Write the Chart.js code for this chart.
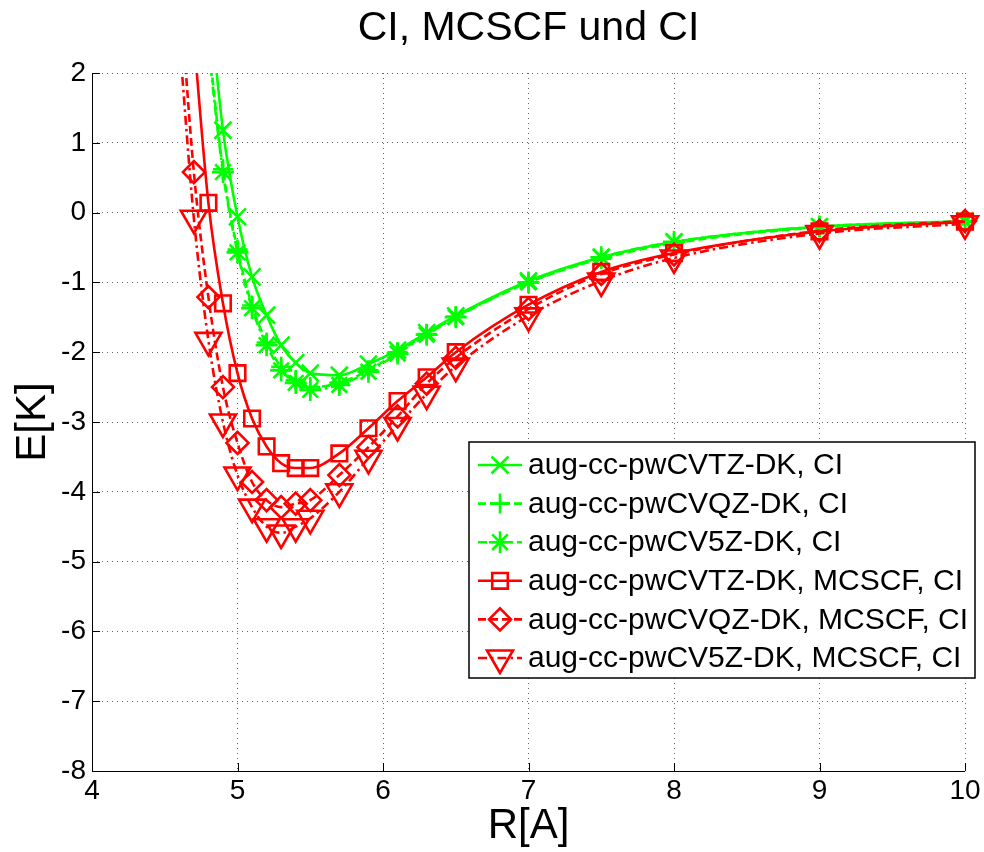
<!DOCTYPE html>
<html><head><meta charset="utf-8">
<script src="https://cdn.jsdelivr.net/npm/chart.js@4/dist/chart.umd.min.js"></script>
<style>html,body{margin:0;padding:0;background:#fff}#wrap{width:984px;height:852px;position:relative}</style>
</head><body><div id="wrap"><canvas id="c"></canvas></div>
<script>
// ---- data ----
const R = [4.6,4.7,4.8,4.9,5.0,5.1,5.2,5.3,5.4,5.5,5.7,5.9,6.1,6.3,6.5,7.0,7.5,8.0,9.0,10.0];
const ciTZ = [null,null,3.2,1.18,-0.06,-0.92,-1.47,-1.90,-2.15,-2.30,-2.33,-2.17,-1.97,-1.72,-1.48,-0.98,-0.64,-0.42,-0.20,-0.12];
const ciQZ = [null,null,2.45,0.62,-0.53,-1.33,-1.86,-2.21,-2.40,-2.50,-2.44,-2.26,-2.00,-1.74,-1.49,-1.00,-0.66,-0.44,-0.21,-0.13];
const ci5Z = [null,null,2.36,0.58,-0.57,-1.37,-1.90,-2.26,-2.44,-2.54,-2.47,-2.28,-2.02,-1.75,-1.50,-1.00,-0.64,-0.42,-0.20,-0.13];
const mcTZ = [null,2.5,0.14,-1.30,-2.30,-2.95,-3.35,-3.59,-3.66,-3.66,-3.45,-3.09,-2.70,-2.36,-2.00,-1.32,-0.85,-0.58,-0.27,-0.13];
const mcQZ = [3.3,0.58,-1.21,-2.50,-3.30,-3.86,-4.12,-4.22,-4.17,-4.12,-3.76,-3.36,-2.92,-2.45,-2.08,-1.38,-0.88,-0.60,-0.26,-0.12];
const mc5Z = [2.5,-0.08,-1.83,-3.00,-3.76,-4.22,-4.50,-4.59,-4.50,-4.38,-4.00,-3.52,-3.05,-2.60,-2.20,-1.48,-0.98,-0.65,-0.30,-0.16];
const seriesLabels = [
  'aug-cc-pwCVTZ-DK, CI',
  'aug-cc-pwCVQZ-DK, CI',
  'aug-cc-pwCV5Z-DK, CI',
  'aug-cc-pwCVTZ-DK, MCSCF, CI',
  'aug-cc-pwCVQZ-DK, MCSCF, CI',
  'aug-cc-pwCV5Z-DK, MCSCF, CI'
];
const chartTitle = 'CI, MCSCF und CI';
const xLabel = 'R[A]';
const yLabel = 'E[K]';
const xRange = [4, 10];
const yRange = [-8, 2];

const FONT = '"Liberation Sans", Arial, Helvetica, sans-serif';
const GREEN = '#00ff00', RED = '#ff0000';
const DASH = [8,4], DASHDOT = [9,4,2.5,4];

function pts(arr){ const out=[]; R.forEach((r,i)=>{ if(arr[i]!==null) out.push({x:r,y:arr[i]}); }); return out; }

const styles = [
  {c:GREEN, dash:[], ps:'crossRot', r:12, rot:0},
  {c:GREEN, dash:DASH, ps:'cross', r:10, rot:0},
  {c:GREEN, dash:DASHDOT, ps:'star', r:11, rot:0},
  {c:RED, dash:[], ps:'rect', r:11, rot:0},
  {c:RED, dash:DASH, ps:'rectRot', r:11, rot:0},
  {c:RED, dash:DASHDOT, ps:'triangle', r:15, rot:180}
];
const series = [ciTZ, ciQZ, ci5Z, mcTZ, mcQZ, mc5Z];

const datasets = series.map((s,i)=>({
  label: seriesLabels[i],
  data: pts(s),
  borderColor: styles[i].c,
  borderWidth: 2.6,
  borderDash: styles[i].dash,
  pointStyle: styles[i].ps,
  pointRadius: styles[i].r,
  pointHoverRadius: styles[i].r,
  pointRotation: styles[i].rot,
  pointBorderColor: styles[i].c,
  pointBackgroundColor: 'rgba(0,0,0,0)',
  pointBorderWidth: 2.6,
  cubicInterpolationMode: 'monotone',
  fill: false,
  order: 5 - i,
  clip: {left: 0, top: 0, right: 20, bottom: 0}
}));

const axesPlugin = {
  id: 'matlabAxes',
  afterDatasetsDraw(chart){
    const {ctx, chartArea: ca, scales: {x, y}} = chart;
    ctx.save();
    ctx.strokeStyle = '#000';
    ctx.lineWidth = 1;
    ctx.setLineDash([]);
    ctx.beginPath();
    ctx.moveTo(ca.left + 0.5, ca.top);
    ctx.lineTo(ca.left + 0.5, ca.bottom + 0.5);
    ctx.lineTo(ca.right, ca.bottom + 0.5);
    x.ticks.forEach(t => { const px = Math.round(x.getPixelForValue(t.value)) + 0.5; ctx.moveTo(px, ca.bottom); ctx.lineTo(px, ca.bottom - 8); });
    y.ticks.forEach(t => { const py = Math.round(y.getPixelForValue(t.value)) + 0.5; ctx.moveTo(ca.left, py); ctx.lineTo(ca.left + 8, py); });
    ctx.stroke();
    ctx.restore();
  }
};

const legendPlugin = {
  id: 'boxLegend',
  afterDraw(chart){
    const ctx = chart.ctx;
    const x0 = 469, y0 = 442, w = 506, h = 236;
    ctx.save();
    ctx.fillStyle = '#fff';
    ctx.fillRect(x0, y0, w, h);
    ctx.lineWidth = 1.5;
    ctx.strokeStyle = '#000';
    ctx.strokeRect(x0, y0, w, h);
    chart.data.datasets.forEach((ds, i) => {
      const yy = y0 + 23 + i * 38.6;
      ctx.save();
      ctx.strokeStyle = ds.borderColor;
      ctx.lineWidth = ds.borderWidth;
      ctx.setLineDash(ds.borderDash || []);
      ctx.beginPath(); ctx.moveTo(x0 + 9, yy); ctx.lineTo(x0 + 53, yy); ctx.stroke();
      ctx.setLineDash([]);
      ctx.fillStyle = 'rgba(0,0,0,0)';
      ctx.strokeStyle = ds.pointBorderColor;
      ctx.lineWidth = ds.pointBorderWidth;
      Chart.helpers.drawPoint(ctx, {pointStyle: ds.pointStyle, rotation: ds.pointRotation || 0, radius: ds.pointRadius, borderWidth: ds.pointBorderWidth}, x0 + 31, yy);
      ctx.restore();
      ctx.fillStyle = '#000';
      ctx.font = '30px ' + FONT;
      ctx.textBaseline = 'middle';
      ctx.textAlign = 'left';
      ctx.fillText(ds.label, x0 + 59, yy + 1);
    });
    ctx.restore();
  }
};

new Chart(document.getElementById('c'), {
  type: 'line',
  data: { datasets },
  options: {
    responsive: true,
    maintainAspectRatio: false,
    animation: false,
    events: [],
    layout: { padding: { left: 0, right: 19, top: 0, bottom: 0 } },
    plugins: {
      legend: { display: false },
      tooltip: { enabled: false },
      title: {
        display: true, text: chartTitle, fullSize: false,
        color: '#000',
        font: { family: FONT, size: 41, weight: 'normal' },
        padding: { top: 4, bottom: 19.8 }
      }
    },
    scales: {
      x: {
        type: 'linear', min: xRange[0], max: xRange[1],
        ticks: { stepSize: 1, color: '#000', font: { family: FONT, size: 28 }, padding: 3, maxRotation: 0 },
        grid: { color: 'rgba(0,0,0,0.6)', lineWidth: 1, drawTicks: false },
        border: { display: false, dash: [1,4] },
        title: { display: true, text: xLabel, color: '#000', font: { family: FONT, size: 42 }, padding: { top: 0, bottom: 0 } },
        afterFit(s){ s.height = 81; s.paddingLeft = 0; s.paddingRight = 0; }
      },
      y: {
        type: 'linear', min: yRange[0], max: yRange[1],
        ticks: { stepSize: 1, color: '#000', font: { family: FONT, size: 28 }, padding: 6 },
        grid: { color: 'rgba(0,0,0,0.6)', lineWidth: 1, drawTicks: false },
        border: { display: false, dash: [1,4] },
        title: { display: true, text: yLabel, color: '#000', font: { family: FONT, size: 42 }, padding: { top: 8, bottom: 0 } },
        afterFit(s){ s.width = 92; s.paddingTop = 0; s.paddingBottom = 0; }
      }
    }
  },
  plugins: [axesPlugin, legendPlugin]
});
</script>
</body></html>
